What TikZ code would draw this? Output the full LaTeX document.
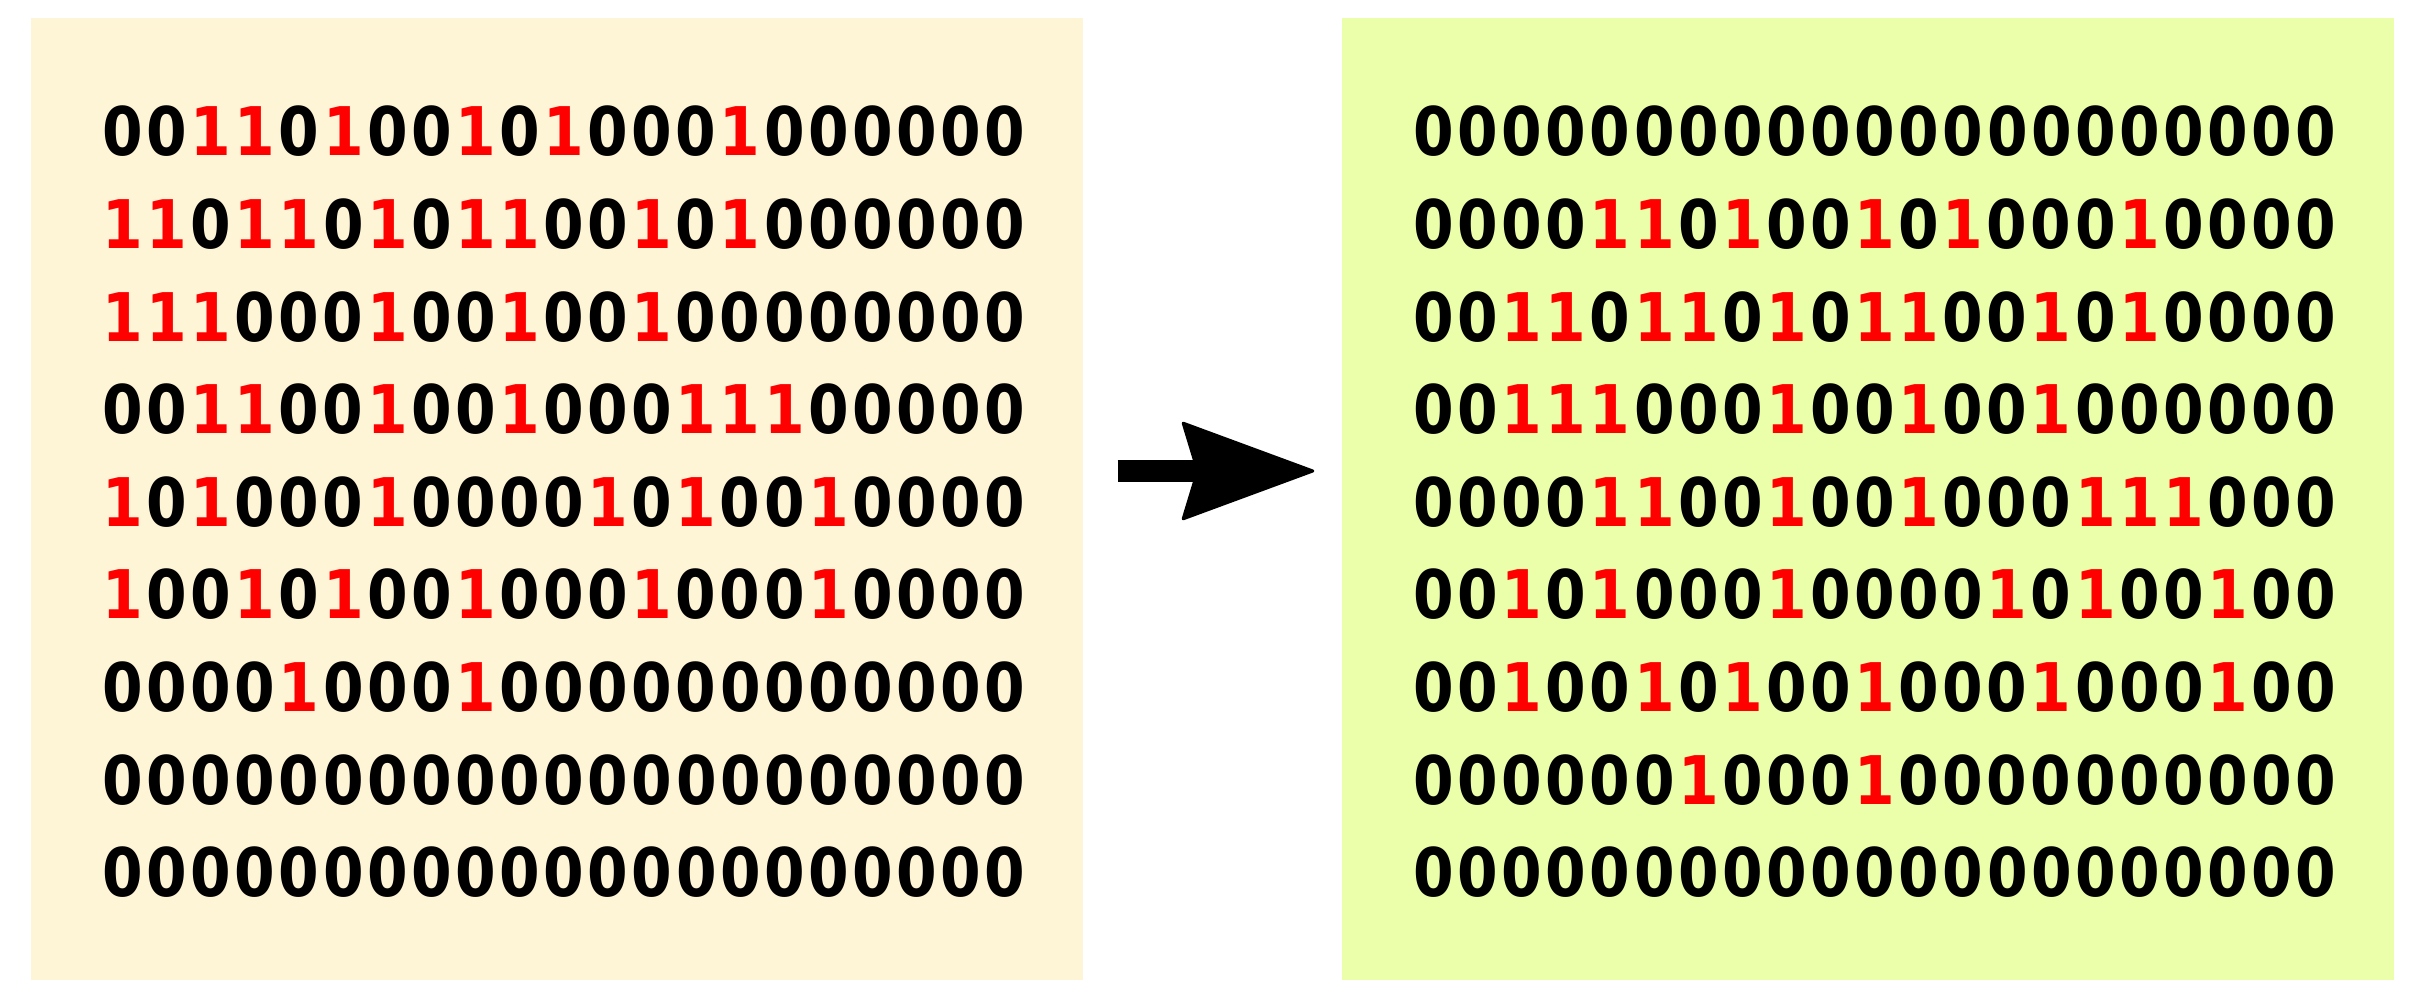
\documentclass[tikz,border=0pt]{standalone}
\usepackage{fontspec}
\usepackage{xcolor}
\usepackage{tikz}
\usetikzlibrary{arrows.meta,positioning,calc}
\newfontfamily\bitfont{DejaVu Sans}[FakeStretch=0.87]
\definecolor{oldcol}{HTML}{FEF5D7}
\definecolor{newcol}{HTML}{EBFEAA}
\definecolor{bitred}{HTML}{FF0000}
% ones in red, zeros in black, one fixed cell per digit
\newcommand\bitcell[1]{\makebox[12.55pt][c]{#1}}
\newcommand\bits[1]{\expandafter\bitsnext#1\relax}
\newcommand\bitsnext[1]{%
  \ifx\relax#1\else
    \ifx1#1\bitcell{\textcolor{bitred}{1}}\else\bitcell{#1}\fi
    \expandafter\bitsnext
  \fi}

\begin{document}
\begin{tikzpicture}[
  panel/.style={minimum width=10.52cm,minimum height=9.62cm,inner sep=0pt},
  bitrow/.style={anchor=base west,inner sep=0pt,
                 font=\bitfont\bfseries\fontsize{19.08pt}{19.08pt}\selectfont},
  bigarrow/.style={line width=0.21cm,
                   -{Stealth[length=1.36cm,width=1.0cm,inset=0.15cm,round,line width=0.03cm]}},
]
\useasboundingbox (0,0) rectangle (24.22,-10.08);

\node[panel,fill=oldcol] (leftpanel)  at (5.57,-4.99) {};
\node[panel,fill=newcol] (rightpanel) at (18.68,-4.99) {};

\foreach \k/\row in {1/001101001010001000000,2/110110101100101000000,
                     3/111000100100100000000,4/001100100100011100000,
                     5/101000100001010010000,6/100101001000100010000,
                     7/000010001000000000000,8/000000000000000000000,
                     9/000000000000000000000}
  { \node[bitrow] (L\k) at (1.00,{-1.56-0.926*(\k-1)}) {\bits{\row}}; }

\foreach \k/\row in {1/000000000000000000000,2/000011010010100010000,
                     3/001101101011001010000,4/001110001001001000000,
                     5/000011001001000111000,6/001010001000010100100,
                     7/001001010010001000100,8/000000100010000000000,
                     9/000000000000000000000}
  { \node[bitrow] (R\k) at (14.11,{-1.56-0.926*(\k-1)}) {\bits{\row}}; }

\path (leftpanel.east) ++(0.34,0.28) coordinate (arrowtail);
\path (rightpanel.west) ++(-0.27,0.28) coordinate (arrowtip);
\draw[bigarrow] (arrowtail) -- (arrowtip);
\end{tikzpicture}
\end{document}
